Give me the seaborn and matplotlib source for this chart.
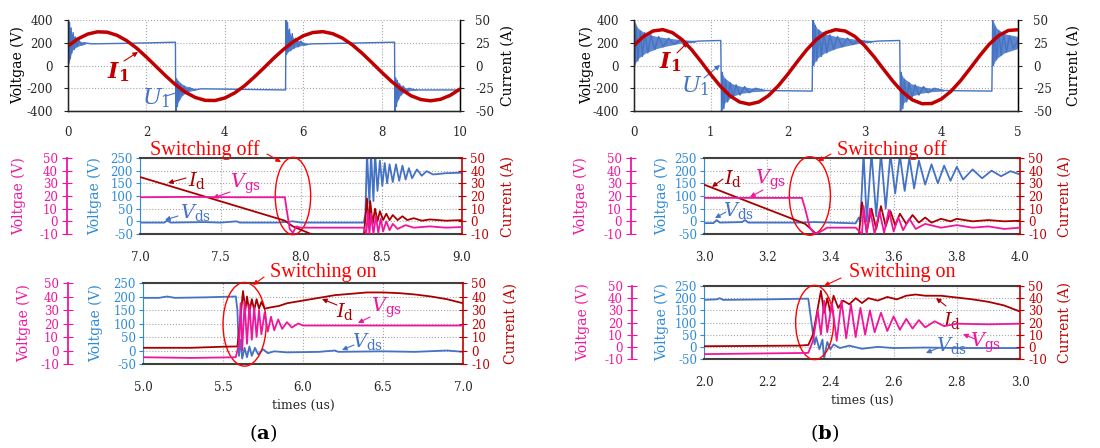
import matplotlib
matplotlib.use('Agg')
import matplotlib.pyplot as plt
import seaborn as sns
from matplotlib.patches import Ellipse
from matplotlib.ticker import FormatStrFormatter

# ---------------- data ----------------
# (a) top: line current I1 (A) and line voltage u1 (V), time 0..10
t_i1_a = [0, 0.25, 0.5, 0.75, 1.0, 1.25, 1.5, 1.75, 2.0, 2.25, 2.5, 2.75, 3.0, 3.25,
          3.5, 3.75, 4.0, 4.25, 4.5, 4.75, 5.0, 5.25, 5.5, 5.75, 6.0, 6.25, 6.5, 6.75,
          7.0, 7.25, 7.5, 7.75, 8.0, 8.25, 8.5, 8.75, 9.0, 9.25, 9.5, 9.75, 10.0]
i1_a = [21.5, 29.2, 34.5, 37.0, 36.6, 33.2, 27.2, 19.1, 9.3, -1.2, -11.7, -21.4, -29.5,
        -35.2, -38.3, -38.5, -35.7, -30.2, -22.4, -12.8, -2.5, 8.1, 17.8, 26.2, 32.6,
        36.3, 37.2, 35.0, 30.1, 22.8, 13.6, 3.3, -7.3, -17.4, -26.1, -33.2, -37.4,
        -38.8, -37.2, -32.8, -25.9]
t_u1_a = [0.0, 0.0, 0.02, 0.04, 0.06, 0.08, 0.10, 0.13, 0.16, 0.19, 0.23, 0.28, 0.34,
          0.42, 0.6, 1.5, 2.2, 2.74, 2.75, 2.77, 2.79, 2.81, 2.84, 2.87, 2.91, 2.96,
          3.02, 3.10, 3.2, 3.4, 4.5, 5.55, 5.56, 5.58, 5.60, 5.62, 5.65, 5.68, 5.72,
          5.76, 5.81, 5.87, 5.94, 6.02, 6.2, 7.0, 8.33, 8.34, 8.36, 8.38, 8.40, 8.43,
          8.46, 8.50, 8.55, 8.62, 8.70, 8.85, 10.0]
u1_a = [-210, 400, 20, 380, 60, 330, 110, 290, 140, 250, 165, 220, 180, 200, 190, 195,
        200, 205, -400, -120, -360, -140, -300, -160, -260, -180, -235, -195, -215,
        -205, -210, -215, 400, 100, 380, 120, 320, 130, 280, 150, 240, 165, 215, 180,
        190, 195, 205, -400, -110, -360, -130, -300, -160, -260, -180, -235, -200,
        -215, -215]
# ringing envelopes of u1 after each edge (time, upper, lower)
ring_a = [
    ([0, 0.05, 0.1, 0.2, 0.3, 0.45], [400, 330, 280, 240, 215, 200], [0, 60, 130, 160, 175, 188]),
    ([2.75, 2.8, 2.9, 3.0, 3.15, 3.3], [-100, -130, -160, -180, -195, -205], [-400, -330, -270, -240, -222, -212]),
    ([5.56, 5.6, 5.7, 5.8, 5.95, 6.1], [400, 320, 260, 230, 210, 198], [100, 120, 140, 160, 175, 185]),
    ([8.34, 8.38, 8.48, 8.58, 8.72, 8.9], [-100, -130, -170, -190, -205, -210], [-400, -330, -260, -235, -222, -216]),
]

# (b) top: time 0..5
t_i1_b = [0, 0.125, 0.25, 0.375, 0.5, 0.625, 0.75, 0.875, 1.0, 1.125, 1.25, 1.375, 1.5,
          1.625, 1.75, 1.875, 2.0, 2.125, 2.25, 2.375, 2.5, 2.625, 2.75, 2.875, 3.0,
          3.125, 3.25, 3.375, 3.5, 3.625, 3.75, 3.875, 4.0, 4.125, 4.25, 4.375, 4.5,
          4.625, 4.75, 4.875, 5.0]
i1_b = [22.2, 32.0, 38.0, 39.4, 36.1, 28.5, 17.4, 4.1, -9.9, -22.8, -33.3, -40.1, -42.5,
        -40.1, -33.2, -22.7, -9.9, 4.1, 17.4, 28.6, 36.1, 39.4, 37.9, 32.0, 22.1, 9.7,
        -4.2, -17.7, -29.4, -37.8, -42.0, -41.8, -37.0, -28.5, -16.9, -3.4, 10.5, 23.3,
        33.0, 38.5, 39.3]
t_u1_b = [0.0, 0.01, 0.03, 0.05, 0.08, 0.11, 0.14, 0.18, 0.22, 0.27, 0.32, 0.38, 0.45,
          0.52, 0.6, 0.7, 0.85, 1.13, 1.14, 1.15, 1.17, 1.19, 1.22, 1.25, 1.29, 1.33,
          1.38, 1.44, 1.5, 1.58, 1.7, 2.32, 2.33, 2.34, 2.36, 2.38, 2.41, 2.44, 2.47,
          2.51, 2.55, 2.60, 2.65, 2.71, 2.78, 2.85, 2.93, 3.03, 3.18, 3.46, 3.47, 3.48,
          3.50, 3.52, 3.55, 3.58, 3.62, 3.66, 3.71, 3.77, 3.83, 3.91, 4.03, 4.66, 4.67,
          4.68, 4.70, 4.72, 4.75, 4.78, 4.81, 4.85, 4.89, 4.94, 5.0]
u1_b = [400, 0, 330, 40, 300, 80, 290, 110, 270, 140, 255, 165, 240, 185, 225, 205, 215,
        220, -400, -60, -380, -120, -320, -150, -280, -170, -260, -185, -240, -200,
        -220, -225, 400, 0, 350, 40, 310, 80, 290, 110, 270, 140, 255, 165, 240, 185,
        225, 205, 215, 220, -400, -60, -380, -120, -320, -150, -280, -170, -260, -185,
        -240, -200, -220, -225, 400, 0, 340, 50, 300, 90, 280, 120, 260, 150, 220]
ring_b = [
    ([0, 0.05, 0.15, 0.3, 0.45, 0.6, 0.8], [400, 330, 280, 255, 240, 228, 220], [0, 60, 110, 150, 175, 195, 205]),
    ([1.14, 1.18, 1.28, 1.4, 1.55, 1.7], [-60, -110, -160, -185, -200, -210], [-400, -330, -270, -245, -230, -225]),
    ([2.33, 2.38, 2.48, 2.63, 2.78, 2.93, 3.1], [400, 330, 280, 255, 240, 228, 220], [0, 60, 110, 150, 175, 195, 205]),
    ([3.47, 3.51, 3.61, 3.73, 3.88, 4.03], [-60, -110, -160, -185, -200, -210], [-400, -330, -270, -245, -230, -225]),
    ([4.67, 4.72, 4.82, 5.0], [400, 330, 280, 255], [0, 60, 110, 150]),
]

# (a) switching off, 7.0..9.0 us
t_vds_a_off = [7.0, 7.15, 7.17, 7.19, 7.4, 7.5, 7.6, 7.62, 7.85, 7.95, 8.0, 8.39, 8.40,
               8.41, 8.425, 8.435, 8.45, 8.46, 8.475, 8.49, 8.505, 8.52, 8.535, 8.55,
               8.57, 8.59, 8.61, 8.63, 8.65, 8.67, 8.69, 8.72, 8.75, 8.78, 8.82, 8.9, 9.0]
vds_a_off = [-5, -5, 3, -5, -3, -5, 0, -5, -5, 0, -5, -5, 30, 270, 70, 270, 80, 270, 120,
             240, 140, 230, 150, 225, 155, 225, 160, 220, 165, 210, 170, 205, 180, 198,
             185, 190, 192]
t_id_a_off = [7.0, 7.9, 7.95, 8.08, 8.39, 8.41, 8.42, 8.43, 8.445, 8.46, 8.475, 8.49,
              8.51, 8.53, 8.55, 8.57, 8.6, 8.63, 8.66, 8.7, 8.75, 8.8, 8.9, 9.0]
id_a_off = [35, 0.5, -4, -11, -12, 18, -5, 16, -2, 10, 0, 8, 1, 6, 1, 5, 1, 4, 1, 2.5,
            0.5, 1.5, 0.5, 1]
t_vgs_a_off = [7.0, 7.3, 7.6, 7.9, 7.91, 7.93, 7.95, 7.97, 8.0, 8.2, 8.39, 8.405, 8.415,
               8.425, 8.435, 8.45, 8.465, 8.48, 8.495, 8.51, 8.53, 8.55, 8.57, 8.6,
               8.65, 8.7, 8.8, 8.9, 9.0]
vgs_a_off = [19, 19.3, 19, 19, 10, -6, -9, -4, -5, -5, -5, -10, 8, -10, 6, -10, 4, -9, 2,
             -8, 0, -7, -2, -6, -3, -5, -4, -5, -4.5]

# (a) switching on, 5.0..7.0 us
t_vds_a_on = [5.0, 5.1, 5.15, 5.2, 5.4, 5.58, 5.59, 5.6, 5.61, 5.62, 5.635, 5.65, 5.665,
              5.68, 5.70, 5.72, 5.75, 5.78, 5.82, 5.9, 6.1, 6.2, 6.22, 6.5, 6.7, 6.9, 7.0]
vds_a_on = [195, 195, 200, 195, 197, 200, 150, -20, 40, -30, 10, -25, 15, -20, 10, -15,
            5, -10, -3, -7, -5, 0, -5, -3, -5, 0, -5]
t_id_a_on = [5.0, 5.3, 5.5, 5.59, 5.61, 5.625, 5.64, 5.65, 5.665, 5.68, 5.695, 5.71,
             5.725, 5.74, 5.76, 5.8, 5.85, 5.9, 6.0, 6.1, 6.2, 6.3, 6.4, 6.5, 6.6, 6.7,
             6.8, 6.9, 7.0]
id_a_on = [2, 2, 2.8, 3, 25, 44, 30, 40, 28, 38, 30, 38, 31, 36, 31, 32, 33, 35, 37, 39,
           41, 42, 43, 43, 42.5, 41.5, 40, 38, 35]
t_vgs_a_on = [5.0, 5.3, 5.58, 5.6, 5.61, 5.62, 5.635, 5.65, 5.665, 5.68, 5.695, 5.71,
              5.725, 5.74, 5.76, 5.78, 5.8, 5.82, 5.845, 5.87, 5.9, 5.93, 5.97, 6.0,
              6.2, 6.5, 7.0]
vgs_a_on = [-5, -5.5, -5, 5, 35, 0, 36, 5, 34, 8, 32, 10, 30, 12, 28, 14, 25, 15, 23,
            16, 21, 17, 20, 18.5, 18.5, 18.5, 18.5]

# (b) switching off, 3.0..4.0 us
t_vds_b_off = [3.0, 3.03, 3.04, 3.05, 3.12, 3.13, 3.14, 3.3, 3.35, 3.48, 3.49, 3.495,
               3.505, 3.515, 3.53, 3.545, 3.56, 3.575, 3.59, 3.605, 3.62, 3.635, 3.65,
               3.665, 3.68, 3.70, 3.72, 3.74, 3.76, 3.78, 3.80, 3.82, 3.85, 3.88, 3.91,
               3.94, 3.97, 4.0]
vds_b_off = [-7, -7, 5, -5, -3, 5, -5, -5, -3, -8, 15, 0, 270, 0, 270, 20, 270, 50, 265,
             110, 260, 120, 250, 130, 240, 145, 225, 150, 220, 160, 215, 165, 205, 170,
             200, 178, 198, 185]
t_id_b_off = [3.0, 3.3, 3.32, 3.36, 3.49, 3.5, 3.515, 3.53, 3.545, 3.56, 3.575, 3.59,
              3.605, 3.62, 3.64, 3.66, 3.68, 3.70, 3.72, 3.75, 3.78, 3.8, 3.85, 3.9,
              3.95, 4.0]
id_b_off = [29, 0, -2, -11, -11, 15, -8, 10, -6, 12, -4, 8, -3, 6, -2, 5, -1, 3, -1, 2,
            0, 2, 0, 1, 0, 0.5]
t_vgs_b_off = [3.0, 3.31, 3.32, 3.335, 3.35, 3.37, 3.39, 3.48, 3.5, 3.505, 3.515, 3.525,
               3.54, 3.555, 3.57, 3.585, 3.6, 3.615, 3.63, 3.65, 3.67, 3.7, 3.75, 3.8,
               3.85, 3.9, 3.95, 4.0]
vgs_b_off = [18.5, 18.5, 10, -5, -10, -8, -5, -5, -10, 12, -10, 10, -10, 8, -9, 9, -8, 3,
             -7, 2, -6, -2, -5, -3, -5, -4, -6, -5]

# (b) switching on, 2.0..3.0 us
t_vds_b_on = [2.0, 2.04, 2.05, 2.06, 2.2, 2.33, 2.34, 2.35, 2.355, 2.365, 2.375, 2.38,
              2.39, 2.4, 2.41, 2.43, 2.46, 2.5, 2.55, 2.6, 2.7, 2.8, 3.0]
vds_b_on = [193, 195, 200, 193, 195, 198, 100, 10, 40, -10, 30, -50, 20, -10, 10, -5, 5,
            -8, 0, -5, -3, -5, -5]
t_id_b_on = [2.0, 2.3, 2.33, 2.345, 2.37, 2.38, 2.39, 2.40, 2.41, 2.425, 2.44, 2.46,
             2.48, 2.5, 2.52, 2.55, 2.58, 2.61, 2.64, 2.67, 2.7, 2.75, 2.8, 2.85, 2.9,
             2.95, 3.0]
id_b_on = [0.5, 1, 1.5, 10, 46, 28, 40, 28, 42, 32, 38, 35, 40, 36, 40, 38, 41, 39, 42,
           43, 42, 42, 40.5, 39, 37, 34, 29]
t_vgs_b_on = [2.0, 2.33, 2.345, 2.36, 2.37, 2.38, 2.39, 2.405, 2.42, 2.435, 2.45, 2.465,
              2.48, 2.495, 2.51, 2.525, 2.54, 2.56, 2.58, 2.60, 2.62, 2.64, 2.66, 2.68,
              2.7, 2.73, 2.76, 2.8, 2.9, 3.0]
vgs_b_on = [-6, -5, 5, 30, 10, 38, 12, 36, 5, 38, 7, 35, 8, 32, 10, 30, 12, 28, 13, 25,
            14, 23, 15, 22, 16, 21, 17, 19, 18.5, 19]

# ---------------- style ----------------
BLUE = '#4472C4'
BLUE_AX = '#2E8BD8'
RED = '#C00000'
RED_LINE = '#A80000'
PINK = '#F0169C'
ANN = '#FF0000'
GRID = '#A6A6A6'

sns.set_style('white')
plt.rcParams['font.family'] = ['DejaVu Serif']
plt.rcParams['mathtext.fontset'] = 'dejavuserif'
plt.rcParams['axes.unicode_minus'] = False

W, H = 1100, 448
fig = plt.figure(figsize=(W / 100, H / 100), dpi=100)


def box(x0, y0, x1, y1):
    return [x0 / W, 1 - y1 / H, (x1 - x0) / W, (y1 - y0) / H]


def fp(x, y):
    return (x / W, 1 - y / H)


def line(ax, t, v, color, lw):
    sns.lineplot(x=t, y=v, ax=ax, color=color, lw=lw, estimator=None, sort=False)


def ylab(ax, text, color, px, x0, x1, size=10):
    ax.set_ylabel(text, color=color, fontsize=size, va='center')
    ax.yaxis.set_label_coords((px - x0) / (x1 - x0), 0.5)


def top_panel(b, t_i, i1, t_u, u1, rings, xmax, xticks, lab_l, lab_r):
    ax = fig.add_axes(box(*b))
    for rt, hi, lo in rings:
        ax.fill_between(rt, lo, hi, color=BLUE, alpha=0.85, lw=0)
    line(ax, t_u, u1, BLUE, 1.0)
    ax.set_xlim(0, xmax)
    ax.set_ylim(-400, 400)
    ax.set_xticks(xticks)
    ax.set_yticks([-400, -200, 0, 200, 400])
    ax.grid(True, color=GRID, ls=':', lw=0.8)
    ax.tick_params(axis='x', length=0, pad=11, labelsize=8.5)
    ax.tick_params(axis='y', direction='out', length=3, pad=8, labelsize=8.5, left=True)
    ax.spines['top'].set_visible(False)
    for s in ['left', 'bottom', 'right']:
        ax.spines[s].set_color('black')
        ax.spines[s].set_linewidth(1.0)
    ax2 = ax.twinx()
    line(ax2, t_i, i1, RED, 2.5)
    ax2.set_ylim(-50, 50)
    ax2.set_yticks([-50, -25, 0, 25, 50])
    ax2.tick_params(axis='y', direction='out', length=3, pad=8, labelsize=8.5, right=True)
    ax2.spines['top'].set_visible(False)
    ax2.spines['right'].set_color('black')
    ylab(ax, 'Voltgae (V)', 'black', lab_l, b[0], b[2])
    ylab(ax2, 'Current (A)', 'black', lab_r, b[0], b[2])
    return ax


def switch_panel(b, xlim, xticks, tv, vds, ti, idd, tg, vgs, pink_px, labs,
                 ell, xlabel=None):
    ax = fig.add_axes(box(*b))
    line(ax, tv, vds, BLUE, 1.3)
    ax.set_xlim(*xlim)
    ax.set_ylim(-50, 250)
    ax.set_xticks(xticks)
    ax.xaxis.set_major_formatter(FormatStrFormatter('%.1f'))
    ax.set_yticks(range(-50, 251, 50))
    ax.grid(True, color=GRID, ls=':', lw=0.8)
    ax.tick_params(axis='x', length=0, pad=12, labelsize=8.5)
    ax.tick_params(axis='y', direction='out', length=3, pad=2, labelsize=8.5,
                   colors=BLUE_AX, left=True)
    ax.spines['left'].set_color(BLUE_AX)
    ax.spines['right'].set_visible(False)
    for s in ['top', 'bottom']:
        ax.spines[s].set_color('#404040')
        ax.spines[s].set_linewidth(1.5)

    axr = ax.twinx()
    line(axr, ti, idd, RED_LINE, 1.3)
    axr.set_ylim(-10, 50)
    axr.set_yticks(range(-10, 51, 10))
    axr.tick_params(axis='y', direction='inout', length=6, pad=3, labelsize=8.5,
                    colors=RED, right=True)
    for s in ['top', 'bottom', 'left']:
        axr.spines[s].set_visible(False)
    axr.spines['right'].set_color(RED)
    axr.spines['right'].set_linewidth(1.2)

    axp = ax.twinx()
    line(axp, tg, vgs, PINK, 1.3)
    axp.set_ylim(-10, 50)
    axp.set_yticks(range(-10, 51, 10))
    # spine offset is in points; the reference gap is given in pixels
    axp.spines['left'].set_position(('outward', pink_px * 72 / 100))
    axp.spines['left'].set_visible(True)
    axp.spines['left'].set_color(PINK)
    axp.spines['left'].set_linewidth(1.3)
    for s in ['top', 'bottom', 'right']:
        axp.spines[s].set_visible(False)
    axp.yaxis.set_ticks_position('left')
    axp.yaxis.set_label_position('left')
    axp.tick_params(axis='y', direction='inout', length=7, pad=3, labelsize=8.5,
                    colors=PINK, left=True, right=False)

    ylab(axp, 'Voltgae (V)', PINK, labs[0], b[0], b[2])
    ylab(ax, 'Voltgae (V)', BLUE_AX, labs[1], b[0], b[2])
    ylab(axr, 'Current (A)', RED, labs[2], b[0], b[2])
    ax.set_xlabel(xlabel if xlabel else '', fontsize=9, labelpad=4)

    ax.add_patch(Ellipse(ell[:2], ell[2], ell[3], fill=False, edgecolor=ANN,
                         lw=1.0, clip_on=False, zorder=10))
    return ax


def note(ax, text, xy, color, size=14, **kw):
    ax.text(*fp(*xy), text, transform=fig.transFigure, color=color, fontsize=size,
            ha='center', va='center', **kw)


def arrow(ax, tail, head, color):
    ax.annotate('', xy=fp(*head), xycoords='figure fraction', xytext=fp(*tail),
                textcoords='figure fraction', annotation_clip=False,
                arrowprops=dict(arrowstyle='-|>', color=color, lw=0.8,
                                mutation_scale=7, shrinkA=0, shrinkB=0))


# ---------------- panels ----------------
axa = top_panel((68, 20, 460, 111), t_i1_a, i1_a, t_u1_a, u1_a, ring_a, 10,
                [0, 2, 4, 6, 8, 10], 18, 508)
axb = top_panel((634, 20, 1018, 111), t_i1_b, i1_b, t_u1_b, u1_b, ring_b, 5,
                [0, 1, 2, 3, 4, 5], 587, 1074)

ma = switch_panel((140, 158, 462, 234), (7.0, 9.0), [7.0, 7.5, 8.0, 8.5, 9.0],
                  t_vds_a_off, vds_a_off, t_id_a_off, id_a_off, t_vgs_a_off, vgs_a_off,
                  73, (19, 95, 508), (7.95, 100, 0.22, 305))
mb = switch_panel((704, 158, 1020, 234), (3.0, 4.0), [3.0, 3.2, 3.4, 3.6, 3.8, 4.0],
                  t_vds_b_off, vds_b_off, t_id_b_off, id_b_off, t_vgs_b_off, vgs_b_off,
                  73, (581, 662, 1065), (3.335, 100, 0.13, 310))
ba = switch_panel((143, 283, 463, 364), (5.0, 7.0), [5.0, 5.5, 6.0, 6.5, 7.0],
                  t_vds_a_on, vds_a_on, t_id_a_on, id_a_on, t_vgs_a_on, vgs_a_on,
                  75, (24, 96, 511), (5.635, 97, 0.27, 310), 'times (us)')
bb = switch_panel((704, 286, 1020, 359), (2.0, 3.0), [2.0, 2.2, 2.4, 2.6, 2.8, 3.0],
                  t_vds_b_on, vds_b_on, t_id_b_on, id_b_on, t_vgs_b_on, vgs_b_on,
                  72, (583, 662, 1065), (2.35, 100, 0.12, 305), 'times (us)')

# ---------------- annotations ----------------
for ax, i_xy, i_arr, u_xy, u_arr in [
        (axa, (118, 72), ((124, 61), (138, 52)), (156, 98), ((166, 96), (182, 91))),
        (axb, (670, 62), ((677, 53), (688, 42)), (695, 86), ((704, 78), (720, 65)))]:
    note(ax, r'$\mathbfit{I}_\mathbf{1}$', i_xy, RED, 16)
    arrow(ax, *i_arr, RED)
    note(ax, r'$U_1$', u_xy, BLUE, 16)
    arrow(ax, *u_arr, BLUE)

sw_font = dict(family='Liberation Serif')
note(ma, 'Switching off', (205, 150), ANN, 14.5, **sw_font)
arrow(ma, (267, 154), (281, 162), ANN)
note(mb, 'Switching off', (892, 150), ANN, 14.5, **sw_font)
arrow(mb, (831, 154), (818, 161), ANN)
note(ba, 'Switching on', (323, 272), ANN, 14.5, **sw_font)
arrow(ba, (264, 277), (253, 285), ANN)
note(bb, 'Switching on', (902, 273), ANN, 14.5, **sw_font)
arrow(bb, (841, 278), (824, 286), ANN)

labels = [
    (ma, (197, 180), ((186, 178), (168, 183)), (246, 184), ((230, 192), (213, 198)),
     (196, 212), ((178, 216), (165, 220))),
    (mb, (733, 178), ((723, 179), (712, 187)), (771, 180), ((763, 190), (750, 197)),
     (739, 210), ((726, 212), (715, 218))),
    (ba, (345, 311), ((337, 305), (322, 299)), (387, 308), ((370, 317), (358, 323)),
     (368, 342), ((354, 345), (342, 350))),
    (bb, (952, 320), ((946, 306), (936, 298)), (986, 343), ((975, 339), (963, 334)),
     (952, 345), ((938, 348), (926, 353))),
]
for ax, id_xy, id_arr, gs_xy, gs_arr, ds_xy, ds_arr in labels:
    note(ax, r'$I_{\rm d}$', id_xy, RED_LINE, 14)
    arrow(ax, *id_arr, RED_LINE)
    note(ax, r'$V_{\rm gs}$', gs_xy, PINK, 14)
    arrow(ax, *gs_arr, PINK)
    note(ax, r'$V_{\rm ds}$', ds_xy, BLUE, 14)
    arrow(ax, *ds_arr, BLUE)

note(ba, r'(${\bf a}$)', (263, 433), 'black', 14)
note(bb, r'(${\bf b}$)', (825, 433), 'black', 14)

fig.savefig('out.png', dpi=100)
